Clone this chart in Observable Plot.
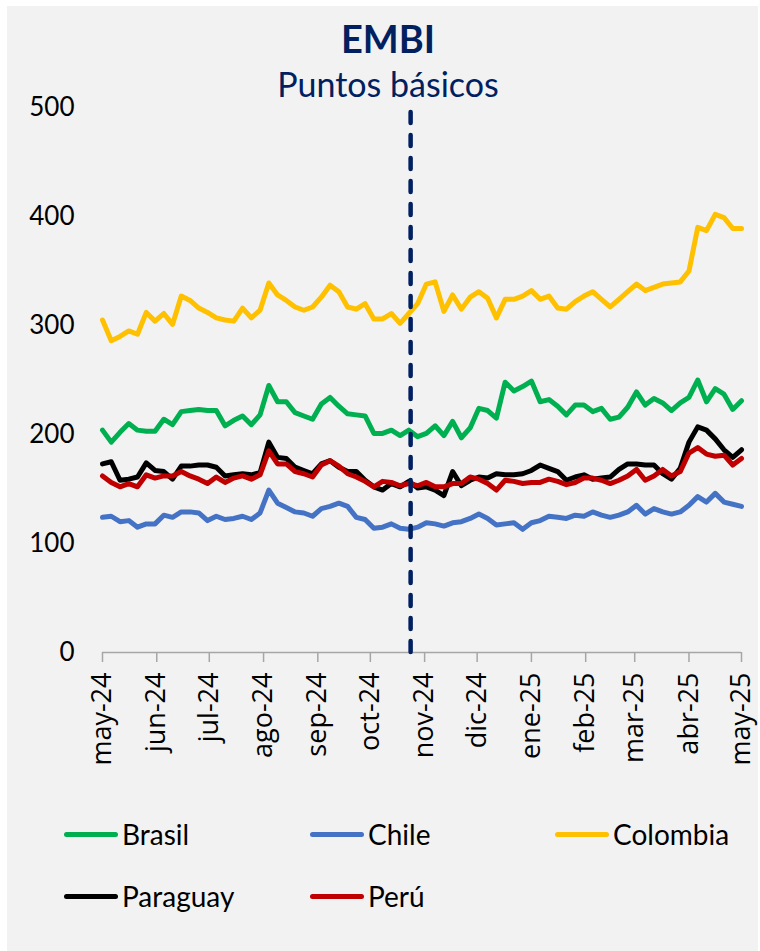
<!DOCTYPE html>
<html><head><meta charset="utf-8">
<script src="https://cdn.jsdelivr.net/npm/d3@7"></script>
<script src="https://cdn.jsdelivr.net/npm/@observablehq/plot@0.6"></script>
<style>
html,body{margin:0;padding:0;background:#fff;width:760px;height:951px;overflow:hidden;}
#panel{position:absolute;left:7px;top:6px;width:751px;height:945px;background:#f2f2f2;}
#chart{position:absolute;left:0;top:0;}
.ttl{position:absolute;left:188px;width:400px;text-align:center;color:#002060;font-family:Lato,sans-serif;line-height:1;white-space:nowrap;}
#title{top:19px;font-size:38px;font-weight:bold;}
#subtitle{top:67px;font-size:34px;}
.leg{position:absolute;display:flex;align-items:center;height:28px;font-family:Lato,sans-serif;font-size:28px;line-height:28px;color:#000;white-space:nowrap;}
.sw{width:54px;height:5px;border-radius:3px;margin-right:4px;}
</style></head>
<body>
<div id="panel"></div>
<div id="chart"></div>
<div id="title" class="ttl">EMBI</div>
<div id="subtitle" class="ttl">Puntos básicos</div>
<div id="legend"></div>
<script>
const dates = [
"2024-05-01","2024-05-06","2024-05-11","2024-05-16","2024-05-21","2024-05-26","2024-05-31",
"2024-06-05","2024-06-10","2024-06-15","2024-06-20","2024-06-25","2024-06-30",
"2024-07-05","2024-07-10","2024-07-15","2024-07-20","2024-07-25","2024-07-30",
"2024-08-04","2024-08-09","2024-08-14","2024-08-19","2024-08-24","2024-08-29",
"2024-09-03","2024-09-08","2024-09-13","2024-09-18","2024-09-23","2024-09-28",
"2024-10-03","2024-10-08","2024-10-13","2024-10-18","2024-10-23","2024-10-28",
"2024-11-02","2024-11-07","2024-11-12","2024-11-17","2024-11-22","2024-11-27",
"2024-12-02","2024-12-07","2024-12-12","2024-12-17","2024-12-22","2024-12-27",
"2025-01-01","2025-01-06","2025-01-11","2025-01-16","2025-01-21","2025-01-26","2025-01-31",
"2025-02-05","2025-02-10","2025-02-15","2025-02-20","2025-02-25",
"2025-03-02","2025-03-07","2025-03-12","2025-03-17","2025-03-22","2025-03-27",
"2025-04-01","2025-04-06","2025-04-11","2025-04-16","2025-04-21","2025-04-26",
"2025-05-01"];

const brasil = [204,193,202,210,204,203,203,214,209,221,222,223,222,222,208,213,217,209,218,
245,230,230,220,217,214,228,234,226,219,218,217,201,201,204,199,204,198,201,208,199,212,197,
206,224,222,215,248,240,244,249,230,232,226,218,227,227,221,224,214,216,225,239,227,233,229,
222,229,234,250,230,242,237,223,231];
const chile = [124,125,120,121,115,118,118,126,124,129,129,128,121,125,122,123,125,122,128,
149,137,133,129,128,125,132,134,137,134,124,122,114,115,118,114,113,115,119,118,116,119,120,
123,127,123,117,118,119,113,119,121,125,124,123,126,125,129,126,124,126,129,135,127,132,129,
127,129,135,143,138,146,138,136,134];
const colombia = [305,286,290,295,292,312,304,311,301,327,323,316,312,307,305,304,316,307,314,
339,328,323,317,314,317,326,337,331,317,315,320,306,306,311,302,311,320,338,340,313,328,315,
326,331,325,307,324,324,327,332,324,327,316,315,322,327,331,324,317,324,331,338,332,335,338,
339,340,350,390,387,402,399,389,389];
const paraguay = [173,175,158,159,161,174,167,166,159,171,171,172,172,170,162,163,164,163,165,
193,179,178,170,167,164,173,176,170,166,166,158,152,149,155,152,157,151,152,149,144,166,153,
158,161,160,164,163,163,164,167,172,169,166,158,161,163,159,160,161,168,173,173,172,172,164,
159,169,193,207,204,196,186,179,186];
const peru = [162,156,152,155,152,163,160,162,162,166,162,159,155,161,156,160,162,159,163,
185,173,173,166,164,161,172,176,171,164,161,157,152,157,156,153,155,153,156,152,152,155,155,
161,159,155,149,158,157,155,156,156,159,157,154,156,160,160,158,155,158,162,168,158,162,168,
162,166,183,188,182,180,181,172,178];

const countries = ["Brasil","Chile","Colombia","Paraguay","Perú"];
const colors = ["#00b050","#4472c4","#ffc000","#000000","#c00000"];
const yTicks = [0,100,200,300,400,500];
const xTickDates = ["2024-05-01","2024-06-01","2024-07-01","2024-08-01","2024-09-01","2024-10-01",
"2024-11-01","2024-12-01","2025-01-01","2025-02-01","2025-03-01","2025-04-01","2025-05-01"];
const xTickLabels = ["may-24","jun-24","jul-24","ago-24","sep-24","oct-24","nov-24","dic-24",
"ene-25","feb-25","mar-25","abr-25","may-25"];
const markerDate = "2024-10-24";

const seriesValues = [brasil, chile, colombia, paraguay, peru];
const data = [];
countries.forEach((c, j) => {
  seriesValues[j].forEach((v, i) => data.push({country: c, date: new Date(dates[i]), value: v}));
});
const tickDates = xTickDates.map(d => new Date(d));
const labelMap = new Map(tickDates.map((d, i) => [+d, xTickLabels[i]]));

const chart = Plot.plot({
  width: 760, height: 790,
  marginLeft: 102, marginRight: 19, marginTop: 107, marginBottom: 138,
  style: {background: "transparent", fontFamily: "Lato, sans-serif", overflow: "visible"},
  x: {type: "utc", domain: [tickDates[0], tickDates[tickDates.length - 1]]},
  y: {domain: [0, 500]},
  color: {domain: countries, range: colors},
  marks: [
    Plot.axisY({ticks: yTicks, tickSize: 0, tickPadding: 28, fontSize: 26, fontFamily: "Lato, sans-serif", fill: "#000", label: null}),
    Plot.axisX({ticks: tickDates, tickFormat: d => labelMap.get(+d), tickRotate: -90, tickSize: 10, tickPadding: 10,
      stroke: "#a6a6a6", strokeWidth: 1.5, fontSize: 27, fontFamily: "Open Sans, sans-serif", fill: "#000", label: null}),
    Plot.ruleY([0], {stroke: "#a6a6a6", strokeWidth: 1.5}),
    Plot.line(data, {x: "date", y: "value", z: "country", stroke: "country", strokeWidth: 5,
      strokeLinejoin: "round", strokeLinecap: "round"}),
    Plot.ruleX([new Date(markerDate)], {y1: 0, y2: 496, stroke: "#002060", strokeWidth: 4.5,
      strokeDasharray: "11,12", strokeLinecap: "round"})
  ]
});
document.getElementById("chart").appendChild(chart);

const legendPos = [[64, 820], [310, 820], [555, 820], [64, 882], [310, 882]];
const legend = document.getElementById("legend");
countries.forEach((c, i) => {
  const item = document.createElement("div");
  item.className = "leg";
  item.style.left = legendPos[i][0] + "px";
  item.style.top = legendPos[i][1] + "px";
  const sw = document.createElement("div");
  sw.className = "sw";
  sw.style.background = colors[i];
  item.appendChild(sw);
  const t = document.createElement("span");
  t.textContent = c;
  item.appendChild(t);
  legend.appendChild(item);
});
</script>
</body></html>
